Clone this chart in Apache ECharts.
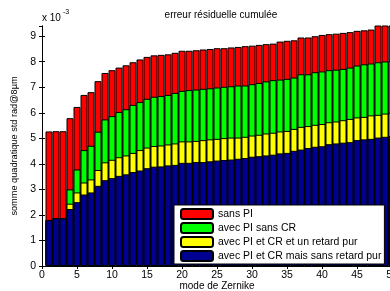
<!DOCTYPE html>
<html>
<head>
<meta charset="utf-8">
<script src="https://cdn.jsdelivr.net/npm/echarts@6/dist/echarts.min.js"></script>
<style>
html, body { margin: 0; padding: 0; background: #fff; }
#chart { width: 390px; height: 291px; }
</style>
</head>
<body>
<div id="chart"></div>
<script>
// données (x 10^-3)
var modes = [1,2,3,4,5,6,7,8,9,10,11,12,13,14,15,16,17,18,19,20,21,22,23,24,25,
             26,27,28,29,30,31,32,33,34,35,36,37,38,39,40,41,42,43,44,45,46,47,48,49,50];

var sansPI = [5.27,5.28,5.28,5.79,6.23,6.70,6.81,7.24,7.56,7.67,7.77,7.86,7.98,8.09,8.19,8.25,8.27,8.29,8.35,8.43,
              8.43,8.45,8.48,8.50,8.53,8.53,8.56,8.58,8.61,8.63,8.66,8.69,8.71,8.79,8.82,8.84,8.95,8.95,9.00,9.05,
              9.08,9.10,9.13,9.16,9.21,9.23,9.26,9.45,9.48,9.50];

var piSansCR = [1.80,1.87,1.87,3.00,3.78,4.54,4.71,5.26,5.74,5.87,6.03,6.14,6.31,6.42,6.55,6.63,6.66,6.70,6.78,6.86,
                6.89,6.91,6.94,6.96,6.99,7.02,7.04,7.07,7.07,7.12,7.17,7.23,7.28,7.30,7.33,7.38,7.51,7.51,7.59,7.62,
                7.67,7.69,7.72,7.77,7.85,7.90,7.93,7.98,8.01,8.03];

var piCRRetard = [1.80,1.87,1.87,2.44,2.88,3.27,3.39,3.76,4.06,4.16,4.26,4.33,4.43,4.54,4.64,4.70,4.72,4.76,4.80,4.88,
                  4.88,4.90,4.93,4.96,4.98,5.01,5.03,5.03,5.06,5.11,5.14,5.19,5.22,5.27,5.29,5.37,5.45,5.48,5.53,5.56,
                  5.63,5.66,5.71,5.76,5.82,5.84,5.90,5.92,5.97,6.00];

var piCRSansRetard = [1.80,1.87,1.87,2.23,2.50,2.80,2.88,3.14,3.36,3.44,3.53,3.59,3.68,3.74,3.83,3.89,3.90,3.94,3.96,4.04,
                      4.04,4.07,4.07,4.10,4.13,4.15,4.17,4.20,4.23,4.28,4.30,4.33,4.36,4.41,4.43,4.51,4.56,4.62,4.67,4.69,
                      4.77,4.80,4.83,4.85,4.93,4.96,4.98,5.03,5.06,5.09];

var noms = ['sans PI', 'avec PI sans CR', 'avec PI et CR et un retard pur', 'avec PI et CR mais sans retard pur'];
var couleurs = ['#ff0000', '#00ff00', '#ffff00', '#000090'];
var xTicks = [0, 50, 5];
var yTicks = [0, 9.4, 1];

function paires(vals) {
    return vals.map(function(v, i) { return [modes[i], v]; });
}

var chart = echarts.init(document.getElementById('chart'));
var police = 'Liberation Sans, Arial, sans-serif';

var series = [sansPI, piSansCR, piCRRetard, piCRSansRetard].map(function(vals, k) {
    return {
        name: noms[k],
        type: 'bar',
        data: paires(vals),
        barWidth: 7,
        barGap: '-100%',
        clip: true,
        itemStyle: { color: couleurs[k], borderColor: '#000', borderWidth: 1 }
    };
});

var axeX = {
    type: 'value',
    min: xTicks[0], max: xTicks[1], interval: xTicks[2],
    axisLine: { lineStyle: { color: '#000' } },
    axisTick: { inside: true, length: 3, lineStyle: { color: '#000' } },
    splitLine: { show: false }
};
var axeY = {
    type: 'value',
    min: yTicks[0], max: yTicks[1], interval: yTicks[2],
    axisLine: { show: true, lineStyle: { color: '#000' } },
    axisTick: { show: true, inside: true, length: 3, lineStyle: { color: '#000' } },
    splitLine: { show: false }
};

var option = {
    animation: false,
    textStyle: { fontFamily: police },
    title: {
        text: 'erreur résiduelle cumulée',
        left: 216, top: 5, textAlign: 'center',
        textStyle: { fontSize: 10, fontWeight: 'normal', color: '#000', fontFamily: police }
    },
    graphic: [
        { type: 'text', left: 42, top: 13, style: { text: 'x 10', fontSize: 10, fill: '#000', fontFamily: police } },
        { type: 'text', left: 63, top: 9, style: { text: '-3', fontSize: 7, fill: '#000', fontFamily: police } }
    ],
    legend: {
        orient: 'vertical',
        left: 174, top: 205,
        padding: [3, 3, 2, 6],
        itemWidth: 32, itemHeight: 10, itemGap: 2,
        backgroundColor: '#fff',
        borderColor: '#000', borderWidth: 1,
        textStyle: { fontSize: 10.5, lineHeight: 11, color: '#000', fontFamily: police },
        data: noms
    },
    grid: { left: 42, right: -2, top: 26, bottom: 25, outerBoundsMode: 'none', containLabel: false },
    xAxis: [
        Object.assign({}, axeX, {
            name: 'mode de Zernike', nameLocation: 'middle', nameGap: 15, nameMoveOverlap: false,
            nameTextStyle: { fontSize: 10, color: '#000', fontFamily: police },
            axisLabel: { fontSize: 10.5, color: '#000', margin: 4 }
        }),
        Object.assign({}, axeX, { position: 'top', axisLabel: { show: false } })
    ],
    yAxis: [
        Object.assign({}, axeY, {
            name: 'somme quadratique std rad@8µm', nameLocation: 'middle', nameGap: 23, nameMoveOverlap: false,
            nameTextStyle: { fontSize: 9.2, color: '#000', fontFamily: police },
            axisLabel: { fontSize: 10.5, color: '#000', margin: 6, showMaxLabel: false }
        }),
        Object.assign({}, axeY, { position: 'right', axisLabel: { show: false } })
    ],
    series: series
};

chart.setOption(option);
</script>
</body>
</html>
